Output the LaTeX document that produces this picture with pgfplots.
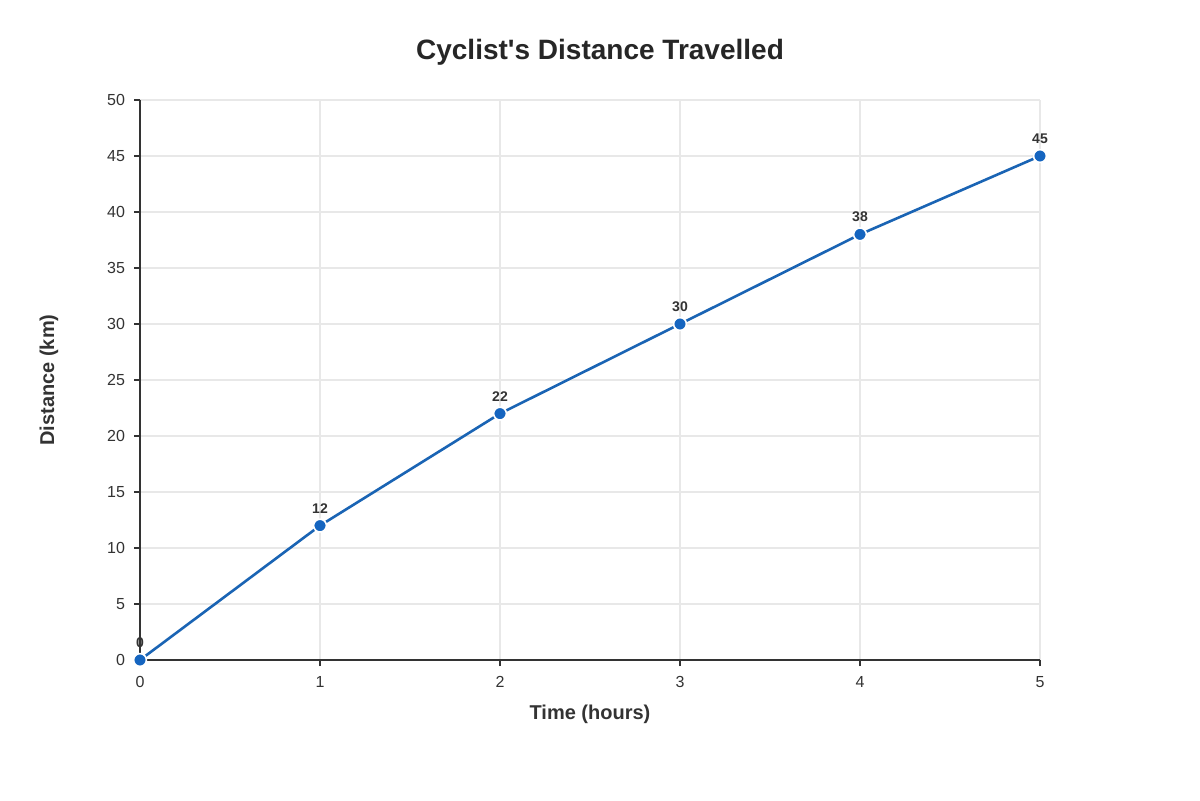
\documentclass[border=0pt]{standalone}
\usepackage{pgfplots}
\pgfplotsset{compat=1.18}
\usepackage{fontspec}
\setmainfont{Liberation Sans}
\definecolor{lineblue}{HTML}{1A64B4}
\definecolor{markblue}{HTML}{1565C0}
\definecolor{axisdark}{HTML}{333333}
\definecolor{gridgray}{HTML}{E8E8E8}
\begin{document}
\begin{tikzpicture}[x=0.5pt,y=0.5pt]
\path[fill=white] (0,0) rectangle (1200,800);
\node[font=\bfseries\fontsize{14}{16}\selectfont, text=black!85] at (600,748) {Cyclist\textquotesingle s Distance Travelled};
\node[font=\bfseries\fontsize{10}{12}\selectfont, text=axisdark, rotate=90] at (49,420) {Distance (km)};
\node[font=\bfseries\fontsize{10}{12}\selectfont, text=axisdark] at (590,86) {Time (hours)};
\begin{axis}[
  at={(140pt*0.5,140pt*0.5)}, anchor=origin,
  scale only axis, width=450pt, height=280pt,
  xmin=0, xmax=5, ymin=0, ymax=50,
  xtick={0,1,2,3,4,5}, ytick={0,5,...,50},
  axis x line=bottom, axis y line=left,
  axis line style={axisdark, line width=1.4pt, -},
  grid=major, major grid style={gridgray, line width=0.55pt},
  tick style={axisdark, line width=0.6pt},
  tick align=outside, major tick length=3pt,
  tick label style={font=\fontsize{8}{10}\selectfont, text=axisdark},
  xticklabel style={yshift=-1.5pt},
  yticklabel style={xshift=-1pt},
  /pgf/number format/assume math mode=true,
  clip=false,
  nodes near coords,
  every node near coord/.append style={font=\bfseries\fontsize{7}{8}\selectfont, text=axisdark, yshift=2.5pt},
]
\addplot[color=lineblue, line width=1.3pt, mark=*, mark size=3.2pt,
  mark options={fill=markblue, draw=white, line width=0.8pt}]
  coordinates {(0,0) (1,12) (2,22) (3,30) (4,38) (5,45)};
\end{axis}
\end{tikzpicture}
\end{document}
